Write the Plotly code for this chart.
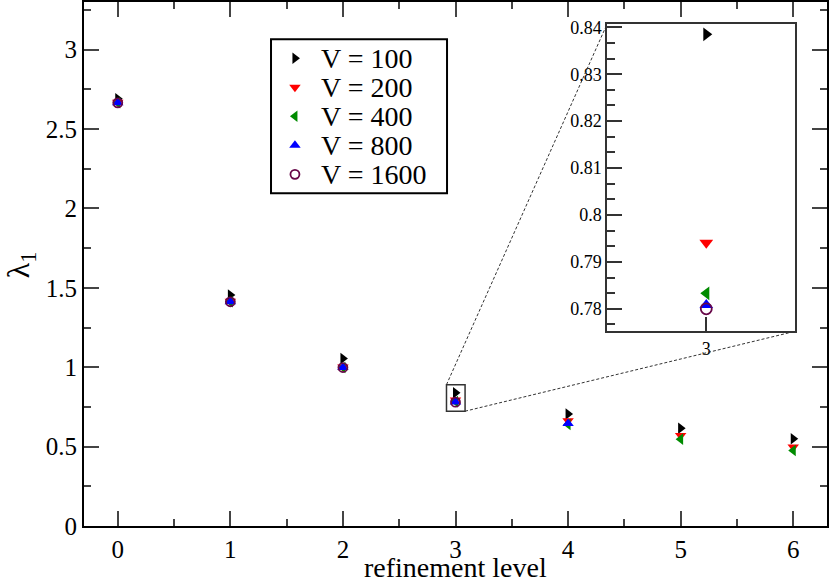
import plotly.graph_objects as go

# refinement levels and lowest eigenvalue for each V
levels = [0, 1, 2, 3, 4, 5, 6]
v100 = [2.690, 1.455, 1.055, 0.8385, 0.706, 0.616, 0.549]
v200 = [2.668, 1.416, 1.001, 0.7941, 0.663, 0.570, 0.498]
v400 = [2.665, 1.412, 0.998, 0.7833, 0.640, 0.547, 0.476]
v800 = [2.665, 1.412, 0.998, 0.7808, 0.645]
v1600 = [2.665, 1.412, 0.998, 0.7800]

labels = ["V = 100", "V = 200", "V = 400", "V = 800", "V = 1600"]
symbols = ["triangle-right", "triangle-down", "triangle-left", "triangle-up", "circle-open"]
colors = ["black", "red", "rgb(0,139,0)", "blue", "rgb(103,7,72)"]
values = [v100, v200, v400, v800, v1600]

FONT = "Liberation Serif"
xr = [-0.3, 6.3]
yr = [0, 3.3]
inset_xr = [2.905, 3.085]
inset_yr = [0.7752, 0.8407]
inset_dom_x = [0.704, 0.957]
inset_dom_y = [0.3715, 0.958]
zoom_box = dict(x0=2.92, x1=3.085, y0=0.723, y1=0.89)

fig = go.Figure()
for name, vals, sym, col in zip(labels, values, symbols, colors):
    xs = levels[:len(vals)]
    lw = 1.8 if sym == "circle-open" else 0
    fig.add_trace(go.Scatter(x=xs, y=vals, mode="markers", name=name, showlegend=False,
                             marker=dict(symbol=sym, size=10 if lw == 0 else 9, color=col, opacity=1,
                                         line=dict(width=lw, color=col))))
    fig.add_trace(go.Scatter(x=xs, y=vals, mode="markers", name=name, showlegend=False,
                             xaxis="x2", yaxis="y2",
                             marker=dict(symbol=sym, size=12 if lw == 0 else 11, color=col, opacity=1,
                                         line=dict(width=lw, color=col))))

# hand made legend box (tight row spacing like the original)
leg_y = [0.877, 0.688, 0.5, 0.312, 0.123]
fig.add_trace(go.Scatter(x=[0.136] * len(labels), y=leg_y, mode="markers", showlegend=False,
                         xaxis="x3", yaxis="y3", hoverinfo="skip",
                         marker=dict(symbol=symbols, size=[10, 10, 10, 10, 9], color=colors, opacity=1,
                                     line=dict(width=[0, 0, 0, 0, 1.8], color=colors))))
annotations = []
for lab, yy in zip(labels, leg_y):
    annotations.append(dict(x=0.27, y=yy, xref="x3", yref="y3", text=lab, showarrow=False,
                            xanchor="left", yanchor="middle",
                            font=dict(family=FONT, size=28, color="black")))

# axis titles
annotations.append(dict(x=0.5, y=-0.046, xref="paper", yref="paper", text="refinement level",
                        showarrow=False, xanchor="center", yanchor="top",
                        font=dict(family=FONT, size=28, color="black")))
annotations.append(dict(x=-0.086, y=0.498, xref="paper", yref="paper", text="λ<sub>1</sub>",
                        showarrow=False, xanchor="center", yanchor="middle", textangle=-90,
                        font=dict(family=FONT, size=32, color="black")))

def to_paper(x, y):
    return (x - xr[0]) / (xr[1] - xr[0]), (y - yr[0]) / (yr[1] - yr[0])

bx0, by0 = to_paper(zoom_box["x0"], zoom_box["y0"])
bx1, by1 = to_paper(zoom_box["x1"], zoom_box["y1"])

shapes = [
    dict(type="rect", xref="x", yref="y", line=dict(color="#333", width=1.5), **zoom_box),
    dict(type="line", xref="paper", yref="paper", x0=bx0, y0=by1, x1=inset_dom_x[0], y1=inset_dom_y[1],
         line=dict(color="#333", width=1, dash="3px,2px")),
    dict(type="line", xref="paper", yref="paper", x0=bx1, y0=by0, x1=inset_dom_x[1], y1=inset_dom_y[0],
         line=dict(color="#333", width=1, dash="3px,2px")),
    dict(type="rect", xref="paper", yref="paper", x0=0.2517, x1=0.4886, y0=0.635, y1=0.929,
         line=dict(color="black", width=2)),
]

tickfont = dict(family=FONT, size=25, color="black")
fig.update_layout(
    width=830, height=583,
    margin=dict(l=84, r=3, t=2, b=57),
    paper_bgcolor="white", plot_bgcolor="white",
    font=dict(family=FONT, color="black"),
    xaxis=dict(range=xr, dtick=1, tick0=0, ticks="inside", ticklen=15, tickwidth=2,
               showline=True, linewidth=2, linecolor="black", mirror="ticks", showgrid=False,
               zeroline=False, tickfont=tickfont, automargin=False,
               minor=dict(ticks="inside", dtick=0.5, tick0=0, ticklen=7, tickwidth=2, showgrid=False)),
    yaxis=dict(range=yr, dtick=0.5, tick0=0, ticks="inside", ticklen=15, tickwidth=2,
               showline=True, linewidth=2, linecolor="black", mirror="ticks", showgrid=False,
               zeroline=False, tickfont=tickfont, automargin=False,
               minor=dict(ticks="inside", dtick=0.25, tick0=0, ticklen=7, tickwidth=2, showgrid=False)),
    xaxis2=dict(domain=inset_dom_x, anchor="y2", range=inset_xr, tickvals=[3], ticks="inside",
                ticklen=15, tickwidth=1.5, tickcolor="#333", showline=True, linewidth=1.5,
                linecolor="#333", mirror=True, showgrid=False, zeroline=False, automargin=False,
                tickfont=dict(family=FONT, size=18, color="black")),
    yaxis2=dict(domain=inset_dom_y, anchor="x2", range=inset_yr, dtick=0.01, tick0=0.78,
                ticks="inside", ticklen=15, tickwidth=1.5, tickcolor="#333", showline=True,
                linewidth=1.5, linecolor="#333", mirror=True, showgrid=False, zeroline=False,
                automargin=False, tickfont=dict(family=FONT, size=18, color="black"),
                minor=dict(ticks="inside", dtick=0.01 / 3, tick0=0.78, ticklen=8, tickwidth=1.5,
                           tickcolor="#333", showgrid=False)),
    xaxis3=dict(domain=[0.2517, 0.4886], anchor="y3", range=[0, 1], visible=False, fixedrange=True),
    yaxis3=dict(domain=[0.635, 0.929], anchor="x3", range=[0, 1], visible=False, fixedrange=True),
    shapes=shapes,
    annotations=annotations,
)

# page body has a default 8px margin, drop it so the figure sits at the window corner
fig.write_html("out.html", config={"displayModeBar": False},
               post_script="document.body.style.margin='0';")
